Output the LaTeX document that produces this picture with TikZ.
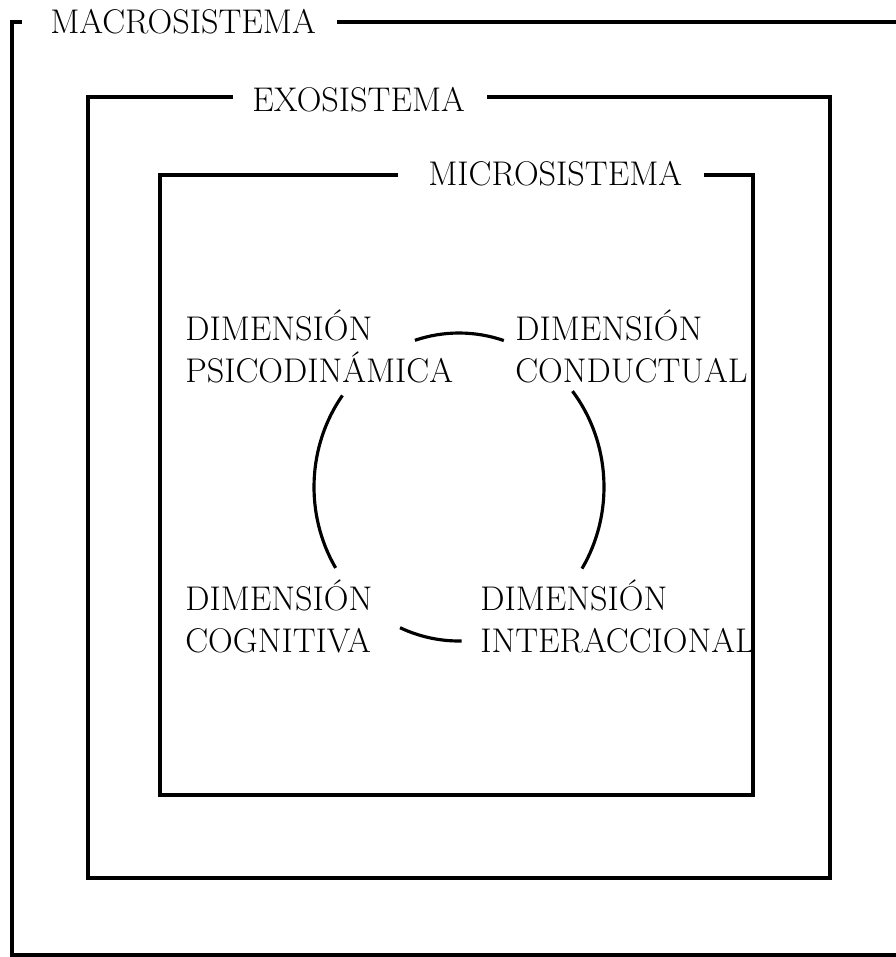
\documentclass[tikz,border=0pt]{standalone}
\usetikzlibrary{calc}
\begin{document}
\begin{tikzpicture}[x=.02cm,y=-.02cm,
  frame/.style={line width=2pt},
  link/.style={line width=1.8pt},
  title/.style={font=\fontsize{19.5}{23.5}\selectfont,inner sep=0pt,anchor=west},
  dim/.style={title,align=left,anchor=base west}]
\useasboundingbox (0,0) rectangle (896,957);
\clip (0,0) rectangle (896,957);

% Macrosistema
\node[title] (macro) at (50,22) {MACROSISTEMA};
\draw[frame] (22,22) -- (12,22) -- (12,955) -- (900,955);
\draw[frame] (337,22) -- (900,22);

% Exosistema
\node[title] (exo) at (252,100) {EXOSISTEMA};
\draw[frame] (233,97) -- (88,97) -- (88,878) -- (830,878) -- (830,97) -- (487,97);

% Microsistema
\node[title] (micro) at (428,174) {MICROSISTEMA};
\draw[frame] (398,175) -- (160,175) -- (160,795) -- (753,795) -- (753,175) -- (704,175);

% Dimensiones (base = ultima linea)
\node[dim] (psi) at (185,382) {DIMENSIÓN\\PSICODINÁMICA};
\node[dim] (con) at (515,382) {DIMENSIÓN\\CONDUCTUAL};
\node[dim] (cog) at (185,652) {DIMENSIÓN\\COGNITIVA};
\node[dim] (int) at (480,652) {DIMENSIÓN\\INTERACCIONAL};

% Anillo entre las dimensiones
\coordinate (ring) at (459,487);
\draw[link] ([shift={(-107.7:145 and 154)}]ring) arc[start angle=-107.7,end angle=-72,x radius=145,y radius=154];
\draw[link] ([shift={(-38.5:145 and 154)}]ring) arc[start angle=-38.5,end angle=32,x radius=145,y radius=154];
\draw[link] ([shift={(-143.5:145 and 154)}]ring) arc[start angle=-143.5,end angle=-211.7,x radius=145,y radius=154];
\draw[link] ([shift={(-246:145 and 154)}]ring) arc[start angle=-246,end angle=-271,x radius=145,y radius=154];

\end{tikzpicture}
\end{document}
